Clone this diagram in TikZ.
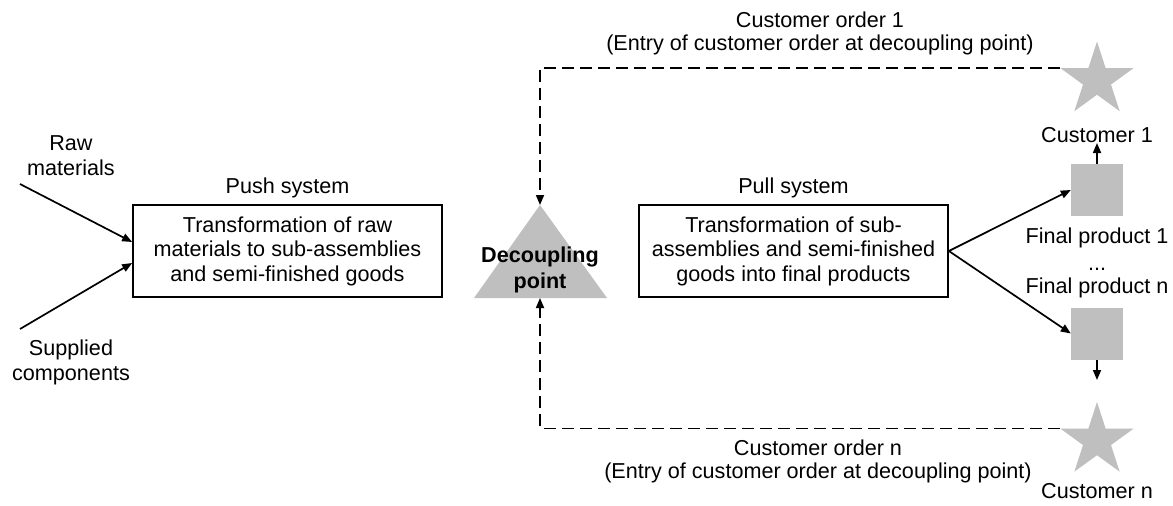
\documentclass[tikz,border=0pt]{standalone}
\usepackage{fontspec}
\setmainfont{Liberation Sans}
\usetikzlibrary{arrows.meta,shapes.geometric}
\definecolor{greyfill}{RGB}{191,191,191}
\begin{document}
\begin{tikzpicture}[x=1pt,y=-1pt, font=\fontsize{21.6}{24.5}\selectfont,
  conn/.style={line width=1.7pt,-{Triangle[length=10pt,width=8pt]}},
  dconn/.style={conn, dash pattern=on 12pt off 6pt},
  procbox/.style={draw, line width=1.7pt, minimum width=309pt, minimum height=92pt, align=center, inner sep=0pt},
  lbl/.style={anchor=base, align=center, inner sep=0pt},
  prod/.style={fill=greyfill, minimum size=52pt, inner sep=0pt},
  cust/.style={star, star points=5, star point ratio=2.618, minimum size=77pt, inner sep=0pt, fill=greyfill}]
\useasboundingbox (0,0) rectangle (1173,506);

% process boxes
\node[procbox] (push) at (287.5,251) {Transformation of raw\\materials to sub-assemblies\\and semi-finished goods};
\node[procbox] (pull) at (793.5,251) {Transformation of sub-\\assemblies and semi-finished\\goods into final products};
\node[lbl] (pushlbl) at (287.5,193) {Push system};
\node[lbl] (pulllbl) at (793.5,193) {Pull system};

% inputs (base anchor = baseline of last line)
\node[lbl] (raw) at (71,175) {Raw\\materials};
\node[lbl] (sup) at (71,380) {Supplied\\components};
\coordinate (rawS) at (20,184);
\coordinate (supS) at (20,329);
\draw[conn] (rawS) -- ([yshift=9pt]push.west);
\draw[conn] (supS) -- ([yshift=-12pt]push.west);

% decoupling point
\fill[greyfill] (474,298) -- (540,205) -- (607,298) -- cycle;
\coordinate (dpTop) at (540,205);
\coordinate (dpBot) at (540,298);
\node[lbl, font=\fontsize{21.6}{26}\selectfont\bfseries] (dp) at (540,288) {Decoupling\\point};

% customers and products
\node[cust] (c1) at (1097,80) {};
\node[cust] (cn) at (1097,440.5) {};
\node[prod] (p1) at (1097,190) {};
\node[prod] (pn) at (1097,333.5) {};
\node[lbl] (c1l) at (1097,142) {Customer 1};
\node[lbl] (p1l) at (1097,243) {Final product 1};
\node[lbl] (dots) at (1097,270) {...};
\node[lbl] (pnl) at (1097,293) {Final product n};
\node[lbl] (cnl) at (1097,498) {Customer n};
\coordinate (c1in) at (1097,143);
\coordinate (cnin) at (1097,380);

\draw[conn] (pull.east) -- (p1.west);
\draw[conn] (pull.east) -- (pn.west);
\draw[conn] (p1.north) -- (c1in);
\draw[conn] (pn.south) -- (cnin);

% customer orders
\node[lbl, font=\fontsize{21.6}{23}\selectfont] (o1) at (820,50) {Customer order 1\\(Entry of customer order at decoupling point)};
\node[lbl, font=\fontsize{21.6}{23}\selectfont] (on) at (818,478) {Customer order n\\(Entry of customer order at decoupling point)};
\draw[dconn] (c1.outer point 2) -| (dpTop);
\draw[dconn] (cn.outer point 2) -| (dpBot);
\end{tikzpicture}
\end{document}
